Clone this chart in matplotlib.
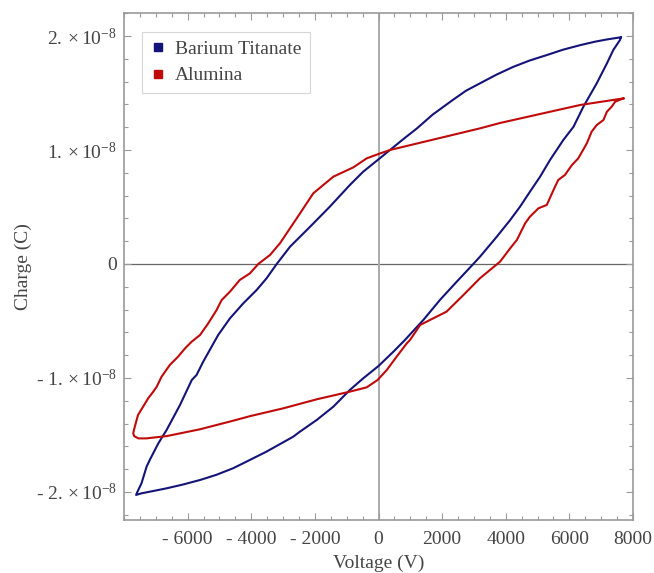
import numpy as np
import matplotlib
matplotlib.use("Agg")
from matplotlib import pyplot as plt
from matplotlib.ticker import MultipleLocator

plt.rcParams['font.family'] = ['Liberation Serif', 'DejaVu Serif']
plt.rcParams['mathtext.fontset'] = 'custom'
plt.rcParams['mathtext.rm'] = 'Liberation Serif'
plt.rcParams['mathtext.it'] = 'Liberation Serif:italic'

# Barium Titanate loop (voltage in kV, charge in 1e-8 C)
bt_v = [7.62, 7.59, 7.38, 7.18, 6.86, 6.44, 6.13, 5.81, 5.39, 5.08, 4.76, 4.45, 4.14,
        3.72, 3.19, 2.98, 2.46, 1.93, 1.41, 0.83, 0.47, 0.0, -0.48, -0.90, -1.42,
        -1.94, -2.47, -2.68, -3.0, -3.52, -4.05, -4.57, -5.1, -5.61, -6.15, -6.66, -7.05, -7.45, -7.62,
        -7.58, -7.45, -7.29, -7.19, -6.92, -6.66, -6.24, -5.87, -5.72, -5.51, -5.04,
        -4.67, -4.25, -3.83, -3.52, -3.20, -2.78, -2.15, -1.53, -0.90, -0.48, 0.0,
        0.36, 0.8, 1.21, 1.7, 2.34, 2.75, 3.19, 3.7, 4.24, 4.75, 5.29, 5.8, 6.34, 6.8, 7.18, 7.62]
bt_q = [1.989, 1.965, 1.877, 1.76, 1.585, 1.38, 1.204, 1.088, 0.912, 0.766, 0.634, 0.503, 0.386,
        0.240, 0.064, 0.0, -0.155, -0.316, -0.491, -0.667, -0.769, -0.895, -1.003, -1.105, -1.252,
        -1.368, -1.471, -1.515, -1.565, -1.646, -1.72, -1.792, -1.85, -1.895, -1.935, -1.968, -1.99, -2.012, -2.026,
        -2.0, -1.924, -1.778, -1.719, -1.573, -1.456, -1.237, -1.018, -0.974, -0.857, -0.623,
        -0.477, -0.345, -0.228, -0.126, 0.0, 0.152, 0.327, 0.503, 0.693, 0.810, 0.918,
        1.0, 1.10, 1.19, 1.31, 1.44, 1.52, 1.585, 1.66, 1.73, 1.785, 1.833, 1.88, 1.92, 1.95, 1.97, 1.989]

# Alumina loop
al_v = [7.70, 7.44, 7.33, 7.18, 7.07, 6.86, 6.70, 6.55, 6.28, 6.08, 5.86, 5.65, 5.50, 5.29,
        5.03, 4.76, 4.61, 4.35, 4.14, 3.82, 3.19, 2.67, 2.14, 1.62, 1.31, 0.99, 0.89, 0.57,
        0.26, -0.03, -0.37, -0.90, -1.94, -2.99, -4.04, -4.57, -5.61, -6.66, -7.30, -7.55,
        -7.68, -7.71,
        -7.69, -7.66, -7.56, -7.40, -7.24, -7.08, -6.97, -6.82, -6.56, -6.30, -6.08, -5.87,
        -5.61, -5.35, -5.09, -4.93, -4.67, -4.36, -4.04, -3.78, -3.41, -3.10, -2.57, -2.05,
        -1.42, -0.79, -0.37, 0.0, 0.36, 3.19, 3.82, 6.34, 7.70]
al_q = [1.453, 1.424, 1.380, 1.336, 1.263, 1.219, 1.161, 1.059, 0.927, 0.868, 0.781, 0.737, 0.649, 0.518,
        0.489, 0.415, 0.357, 0.211, 0.138, 0.020, -0.125, -0.272, -0.418, -0.491, -0.535, -0.667, -0.696, -0.813,
        -0.930, -1.018, -1.082, -1.12, -1.187, -1.266, -1.335, -1.375, -1.45, -1.51, -1.53, -1.53,
        -1.51, -1.485,
        -1.46, -1.427, -1.325, -1.252, -1.178, -1.12, -1.076, -0.989, -0.886, -0.813, -0.740, -0.681,
        -0.623, -0.520, -0.404, -0.316, -0.243, -0.140, -0.082, 0.0, 0.079, 0.181, 0.401, 0.620,
        0.766, 0.848, 0.927, 0.965, 1.0, 1.19, 1.237, 1.395, 1.453]

xticks = [-6000, -4000, -2000, 0, 2000, 4000, 6000, 8000]
xlabels = ['- 6000', '- 4000', '- 2000', '0', '2000', '4000', '6000', '8000']
yticks = [-2e-8, -1e-8, 0, 1e-8, 2e-8]
ylabels = [r'- $2.\times 10^{-8}$', r'- $1.\times 10^{-8}$', '0',
           r'$1.\times 10^{-8}$', r'$2.\times 10^{-8}$']

blue = '#141478'
red = '#c00a0a'
grey = '#444444'

fig = plt.figure(figsize=(6.54, 5.73), dpi=100)
ax = fig.add_axes([124/654, 1-520/573, 509/654, 507/573])

ax.axhline(0, color='#666666', lw=0.9, zorder=1)
ax.axvline(0, color='#aaaaaa', lw=1.4, zorder=1)

ax.plot(np.array(bt_v)*1000, np.array(bt_q)*1e-8, color=blue, lw=1.5, zorder=3)
ax.plot(np.array(al_v)*1000, np.array(al_q)*1e-8, color=red, lw=1.5, zorder=3)

ax.set_xlim(-8000, 8000)
ax.set_ylim(-2.246e-8, 2.202e-8)

ax.set_xticks(xticks)
ax.set_xticklabels(xlabels)
ax.set_yticks(yticks)
ax.set_yticklabels(ylabels)
ax.xaxis.set_minor_locator(MultipleLocator(500))
ax.yaxis.set_minor_locator(MultipleLocator(0.2e-8))
ax.tick_params(which='both', direction='in', top=True, right=True, color='#999999',
               labelsize=14, labelcolor=grey, width=0.8)
ax.tick_params(which='major', length=5)
ax.tick_params(which='minor', length=3)
ax.tick_params(axis='x', pad=8)
ax.tick_params(axis='y', pad=5)
for s in ax.spines.values():
    s.set_color('#999999')
    s.set_linewidth(1.2)

ax.set_xlabel('Voltage (V)', fontsize=14, color=grey, labelpad=5)
ax.set_ylabel('Charge (C)', fontsize=14, color=grey, labelpad=3)

handles = [plt.Line2D([], [], marker='s', ls='', color=blue, markersize=6),
           plt.Line2D([], [], marker='s', ls='', color=red, markersize=6)]
leg = ax.legend(handles, ['Barium Titanate', 'Alumina'], loc='upper left',
                bbox_to_anchor=(0.035, 0.963), fontsize=14, frameon=True, fancybox=False,
                edgecolor='#cccccc', handlelength=0.8, handletextpad=0.45,
                borderpad=0.45, labelspacing=0.45, borderaxespad=0)
leg.get_frame().set_linewidth(0.8)
for t in leg.get_texts():
    t.set_color(grey)

fig.savefig('out.png', dpi=100)
